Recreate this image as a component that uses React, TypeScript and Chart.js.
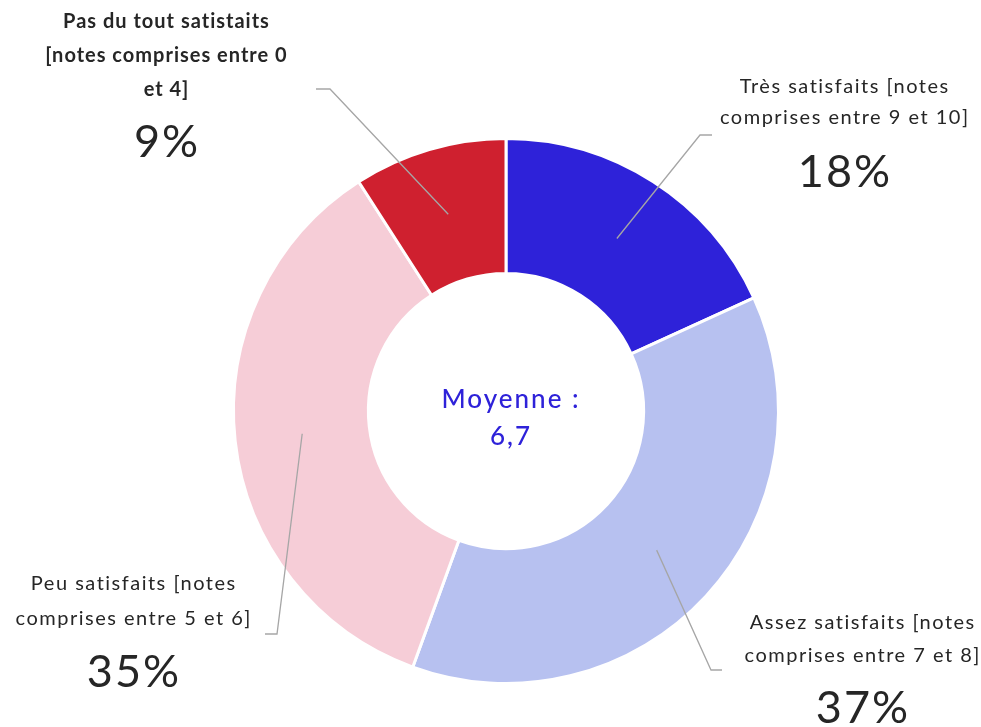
import React, { useEffect, useRef } from "react";
import { Chart, registerables } from "chart.js";

Chart.register(...registerables);

const categories = [
  "Très satisfaits [notes comprises entre 9 et 10]",
  "Assez satisfaits [notes comprises entre 7 et 8]",
  "Peu satisfaits [notes comprises entre 5 et 6]",
  "Pas du tout satistaits [notes comprises entre 0 et 4]",
];
const values = [18, 37, 35, 9];
const percentLabels = ["18%", "37%", "35%", "9%"];
const labelLines = [
  ["Très satisfaits [notes", "comprises entre 9 et 10]"],
  ["Assez satisfaits [notes", "comprises entre 7 et 8]"],
  ["Peu satisfaits [notes", "comprises entre 5 et 6]"],
  ["Pas du tout satistaits", "[notes comprises entre 0", "et 4]"],
];
const centerLines = ["Moyenne :", "6,7"];
const colors = ["#2e22d9", "#b7c1f0", "#f6cdd7", "#cf202f"];

// label layout: text center x, first line y, line height, percent y, elbow, horizontal end
const labelLayout = [
  { x: 844, y: 87, lh: 31, py: 172, bold: false, elbow: [700, 135], end: [712, 135] },
  { x: 862, y: 623, lh: 33, py: 708, bold: false, elbow: [711, 670], end: [722, 670] },
  { x: 133, y: 584, lh: 35, py: 672, bold: false, elbow: [277, 634], end: [265, 634] },
  { x: 166, y: 22, lh: 34, py: 142, bold: true, elbow: [330, 89], end: [316, 89] },
];

const FONT = "Lato, 'Noto Sans', sans-serif";

function drawSpaced(ctx: any, text: string, x: number, y: number, spacing: number) {
  ctx.letterSpacing = `${spacing}px`;
  // letterSpacing adds trailing space; compensate to keep centered
  ctx.fillText(text, x + spacing / 2, y);
  ctx.letterSpacing = "0px";
}

const labelPlugin = {
  id: "labelPlugin",
  afterDraw(chart: any) {
    const ctx = chart.ctx;
    const meta = chart.getDatasetMeta(0);
    ctx.save();
    meta.data.forEach((arc: any, i: number) => {
      const { x, y, startAngle, endAngle, innerRadius, outerRadius } = arc.getProps(
        ["x", "y", "startAngle", "endAngle", "innerRadius", "outerRadius"],
        true
      );
      const mid = (startAngle + endAngle) / 2;
      const r = (innerRadius + outerRadius) / 2;
      const sx = x + Math.cos(mid) * r;
      const sy = y + Math.sin(mid) * r;
      const L = labelLayout[i];
      ctx.strokeStyle = "#a6a6a6";
      ctx.lineWidth = 1.3;
      ctx.beginPath();
      ctx.moveTo(sx, sy);
      ctx.lineTo(L.elbow[0], L.elbow[1]);
      ctx.lineTo(L.end[0], L.end[1]);
      ctx.stroke();

      ctx.fillStyle = "#262626";
      ctx.textAlign = "center";
      ctx.textBaseline = "middle";
      ctx.font = `${L.bold ? "700" : "400"} 20px ${FONT}`;
      labelLines[i].forEach((t, k) => {
        drawSpaced(ctx, t, L.x, L.y + k * L.lh, L.bold ? 1.0 : 1.5);
      });
      ctx.font = `400 45px ${FONT}`;
      drawSpaced(ctx, percentLabels[i], L.x, L.py, 2);
    });
    // center text
    const a0 = meta.data[0];
    ctx.fillStyle = "#2e22d9";
    ctx.font = `500 26px ${FONT}`;
    drawSpaced(ctx, centerLines[0], a0.x + 4, a0.y - 11, 2);
    drawSpaced(ctx, centerLines[1], a0.x + 4, a0.y + 26, 2);
    ctx.restore();
  },
};

export default function App() {
  const ref = useRef<HTMLCanvasElement>(null);
  useEffect(() => {
    document.body.style.margin = "0";
    const chart = new Chart(ref.current!, {
      type: "doughnut",
      data: {
        labels: categories,
        datasets: [
          {
            data: values,
            backgroundColor: colors,
            borderColor: "#ffffff",
            borderWidth: 3,
            hoverOffset: 0,
          },
        ],
      },
      options: {
        responsive: false,
        animation: false,
        cutout: "50.5%",
        layout: { padding: { top: 137, bottom: 42, left: 232, right: 201 } },
        plugins: { legend: { display: false }, tooltip: { enabled: false } },
      },
      plugins: [labelPlugin],
    });
    return () => chart.destroy();
  }, []);
  return (
    <div style={{ width: 981, height: 727, background: "#fff" }}>
      <canvas ref={ref} width={981} height={727} />
    </div>
  );
}
